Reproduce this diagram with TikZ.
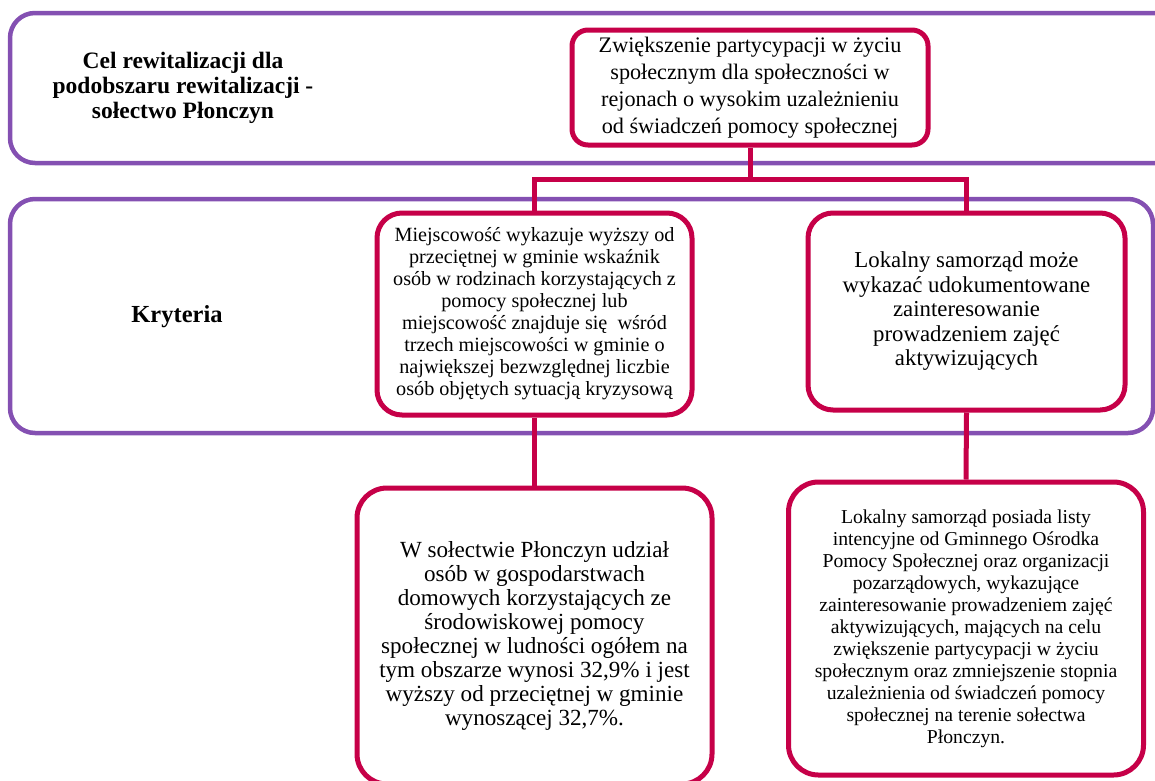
\documentclass[tikz,border=0pt]{standalone}
\usepackage{fontspec}
\setmainfont{Liberation Serif}
\definecolor{bandpurple}{RGB}{132,80,178}
\definecolor{boxred}{RGB}{198,0,72}
\tikzset{
  band/.style={draw=bandpurple, line width=4.5pt, rounded corners=25pt},
  redbox/.style={draw=boxred, fill=white, line width=5pt, align=center, inner sep=0pt},
  conn/.style={draw=boxred, line width=5pt},
  lbl/.style={align=center, font=\bfseries\fontsize{23.5}{25}\selectfont}
}
\begin{document}
\begin{tikzpicture}[x=1pt,y=-1pt]
\useasboundingbox (0,0) rectangle (1155,780);
% bands
\draw[band] (10,13) rectangle (1185,163);
\draw[band] (10,199) rectangle (1153,433);
% labels
\node[lbl] (goalLbl) at (183,88) {Cel rewitalizacji dla\\podobszaru rewitalizacji -\\sołectwo Płonczyn};
\node[lbl, font=\bfseries\fontsize{24.5}{26}\selectfont] (critLbl) at (177,317) {Kryteria};
% boxes
\node[redbox, rounded corners=16pt, minimum width=356pt, minimum height=115pt,
  font=\fontsize{22.2}{27}\selectfont] (top) at (750,87.5)
  {Zwiększenie partycypacji w życiu\\społecznym dla społeczności w\\rejonach o wysokim uzależnieniu\\od świadczeń pomocy społecznej};
\node[redbox, rounded corners=25pt, minimum width=315pt, minimum height=202pt,
  font=\fontsize{20.2}{22}\selectfont] (ml) at (534.5,314)
  {Miejscowość wykazuje wyższy od\\przeciętnej w gminie wskaźnik\\osób w rodzinach korzystających z\\pomocy społecznej lub\\miejscowość znajduje się\ \ wśród\\trzech miejscowości w gminie o\\największej bezwzględnej liczbie\\osób objętych sytuacją kryzysową};
\node[redbox, rounded corners=25pt, minimum width=317pt, minimum height=197pt,
  font=\fontsize{22.8}{24.5}\selectfont] (mr) at (966.5,311.5)
  {Lokalny samorząd może\\wykazać udokumentowane\\zainteresowanie\\prowadzeniem zajęć\\aktywizujących};
\node[redbox, rounded corners=30pt, minimum width=355pt, minimum height=296pt,
  font=\fontsize{23.1}{24}\selectfont] (bl) at (534.5,636)
  {W sołectwie Płonczyn udział\\osób w gospodarstwach\\domowych korzystających ze\\środowiskowej pomocy\\społecznej w ludności ogółem na\\tym obszarze wynosi 32,9\% i jest\\wyższy od przeciętnej w gminie\\wynoszącej 32,7\%.};
\node[redbox, rounded corners=30pt, minimum width=355pt, minimum height=293pt,
  font=\fontsize{19.7}{22}\selectfont] (br) at (966,628.5)
  {Lokalny samorząd posiada listy\\intencyjne od Gminnego Ośrodka\\Pomocy Społecznej oraz organizacji\\pozarządowych, wykazujące\\zainteresowanie prowadzeniem zajęć\\aktywizujących, mających na celu\\zwiększenie partycypacji w życiu\\społecznym oraz zmniejszenie stopnia\\uzależnienia od świadczeń pomocy\\społecznej na terenie sołectwa\\Płonczyn.};
% connectors
\coordinate (bar) at (750,179);
\draw[conn] (top.south) -- (bar);
\draw[conn] (ml.north) |- (bar) -| (mr.north);
\draw[conn] (ml.south) -- (bl.north);
\draw[conn] (mr.south) -- (br.north);
\end{tikzpicture}
\end{document}
